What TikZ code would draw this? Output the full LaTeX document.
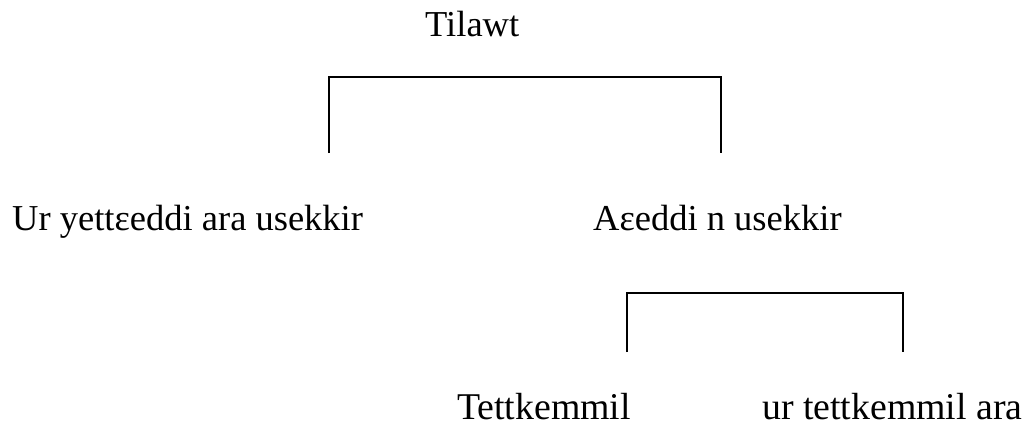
\documentclass[tikz,border=0pt]{standalone}
\usepackage{fontspec}
\setmainfont{Liberation Serif}
\usetikzlibrary{positioning}
\tikzset{
  termtext/.style={inner sep=0pt,anchor=base west,font=\fontsize{36.5}{44}\selectfont},
  subterm/.style={termtext,text depth=0pt,font=\fontsize{37.8}{44}\selectfont},
  bracket/.style={line width=1.3pt}
}
\begin{document}
\begin{tikzpicture}[x=1pt,y=-1pt]
\useasboundingbox (0,0) rectangle (1027,428);
% terms
\node[termtext] (tilawt) at (425,37) {Tilawt};
\node[termtext] (uryett) at (12,230) {Ur yettɛeddi ara usekkir};
\node[termtext] (aeddi) at (593,230) {Aɛeddi n usekkir};
\node[subterm] (tettk) at (457,419) {Tettkemmil};
\node[subterm] (urtettk) at (762,419) {ur tettkemmil ara};
% brackets
\coordinate (br1l) at (329,153);
\coordinate (br1r) at (721,153);
\coordinate (br2l) at (627,352);
\coordinate (br2r) at (903,352);
\draw[bracket] (br1l) -- ++(0,-76) -| (br1r);
\draw[bracket] (br2l) -- ++(0,-59) -| (br2r);
\end{tikzpicture}
\end{document}
